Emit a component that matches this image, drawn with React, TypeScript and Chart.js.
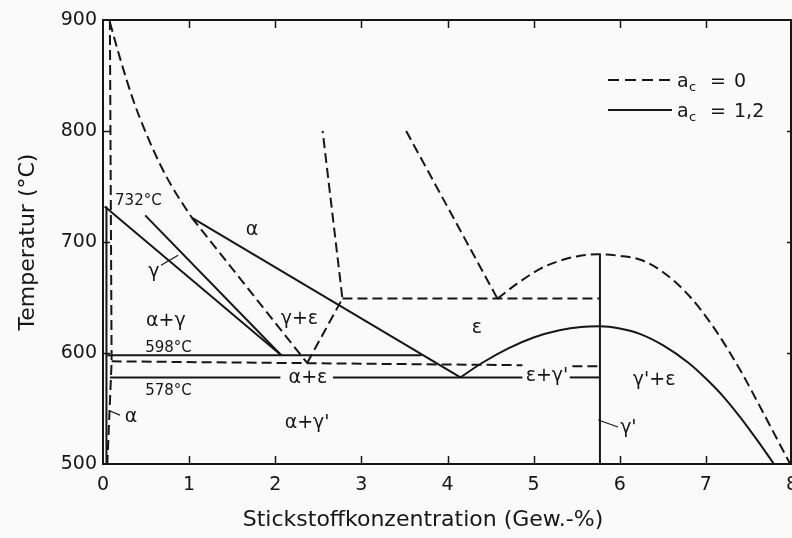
import React, { useEffect, useRef } from "react";
import { Chart, registerables } from "chart.js";

Chart.register(...registerables);

type Pt = [number, number]; // [N in Gew.-%, temperature in °C]

const INK = "#161616";
const FONT = '"DejaVu Sans", "Liberation Sans", sans-serif';

// axis ticks
const X_TICKS = [0, 1, 2, 3, 4, 5, 6, 7, 8];
const T_TICKS = [500, 600, 700, 800, 900];

// ---- a_c = 0 (dashed) ----
const alphaSolvusA0: Pt[] = [[0.08, 900], [0.1, 592], [0.05, 500]];
const gammaCurveA0: Pt[] = [[0.08, 898], [0.2, 865], [0.35, 828], [0.5, 798], [0.65, 772], [0.8, 750], [1.03, 722]];
const gammaAlphaA0: Pt[] = [[1.03, 722], [2.37, 591]];
const gammaEpsA0: Pt[] = [[2.37, 591], [2.78, 649], [2.55, 800]];
const eutectoidA0: Pt[] = [[2.78, 649], [5.77, 649]];
const epsGammaA0: Pt[] = [[3.52, 800], [4.58, 649]];
const epsDomeA0: Pt[] = [
  [4.58, 649], [4.8, 662], [5.08, 676], [5.3, 683], [5.5, 687], [5.74, 689],
  [6.0, 687.5], [6.24, 684], [6.5, 673], [6.8, 652], [7.1, 622], [7.41, 583],
  [7.64, 550], [7.87, 516], [8.0, 497],
];
const iso592A0: Pt[] = [[0.1, 592.5], [4.87, 589]];
const iso592B0: Pt[] = [[5.45, 588], [5.77, 588]];

// ---- a_c = 1,2 (solid) ----
const alphaSolvusA12: Pt[] = [[0.04, 500], [0.04, 732]];
const gammaUpperA12: Pt[] = [[0.02, 732], [2.07, 598]];
const gammaLowerA12: Pt[] = [[0.49, 724], [2.07, 598]];
const alphaBoundA12: Pt[] = [[1.03, 722], [4.15, 578]];
const iso598A12: Pt[] = [[0.05, 598], [3.7, 598]];
const iso578A12a: Pt[] = [[0.08, 578], [2.06, 578]];
const iso578A12b: Pt[] = [[2.67, 578], [4.87, 578]];
const iso578A12c: Pt[] = [[5.42, 578], [5.77, 578]];
const epsDomeA12: Pt[] = [
  [4.15, 578], [4.4, 591], [4.7, 604], [5.0, 614], [5.3, 620.5], [5.55, 623.5],
  [5.77, 624], [6.0, 622], [6.24, 617], [6.5, 607], [6.8, 591], [7.0, 577],
  [7.2, 561], [7.4, 542], [7.6, 521], [7.79, 500],
];
const gammaPrime: Pt[] = [[5.77, 500], [5.77, 689]];

// pointer lines from labels to their boundaries
const leaderGamma: Pt[] = [[0.674, 679], [0.872, 688]];
const leaderAlpha: Pt[] = [[0.081, 547.7], [0.197, 544]];
const leaderGammaPrime: Pt[] = [[5.75, 539.6], [5.98, 533.3]];

// phase-field labels: text, N, T
const regionText = ["α", "γ", "α+γ", "γ+ε", "ε", "α+ε", "ε+γ'", "γ'+ε", "γ'", "α+γ'", "α"];
const regionN = [1.73, 0.59, 0.73, 2.28, 4.34, 2.38, 5.155, 6.4, 6.1, 2.37, 0.325];
const regionT = [710.8, 673, 628.8, 630.6, 622.5, 577.5, 579.3, 575.7, 532.4, 537, 542.3];

// temperature annotations: text, N (left edge), T
const tempText = ["732°C", "598°C", "578°C"];
const tempN = [0.14, 0.49, 0.49];
const tempT = [736.9, 604.5, 565.8];

const toXY = (pts: Pt[]) => pts.map(([x, t]) => ({ x, y: t }));

const lineSet = (pts: Pt[], dashed: boolean, extra: Record<string, unknown> = {}) => ({
  data: toXY(pts),
  borderColor: INK,
  borderWidth: 2,
  borderDash: dashed ? [10, 5] : [],
  pointRadius: 0,
  fill: false,
  tension: 0,
  ...extra,
});

const smooth = { cubicInterpolationMode: "monotone" };

const diagramDecor = {
  id: "diagramDecor",
  beforeDraw(chart: any) {
    const { ctx, width, height } = chart;
    ctx.save();
    ctx.fillStyle = "#fafafa";
    ctx.fillRect(0, 0, width, height);
    ctx.restore();
  },
  afterDatasetsDraw(chart: any) {
    const { ctx, chartArea: a } = chart;
    const xs = chart.scales.x;
    const ys = chart.scales.y;
    ctx.save();
    ctx.strokeStyle = INK;
    ctx.fillStyle = INK;

    // frame
    ctx.lineWidth = 2;
    ctx.setLineDash([]);
    ctx.strokeRect(a.left, a.top, a.right - 1 - a.left, a.bottom - a.top);

    // inward tick marks
    ctx.lineWidth = 1.5;
    ctx.beginPath();
    X_TICKS.forEach((v) => {
      const px = Math.round(xs.getPixelForValue(v)) + 0.5;
      if (v > 0 && v < 8) {
        ctx.moveTo(px, a.bottom);
        ctx.lineTo(px, a.bottom - 8);
        ctx.moveTo(px, a.top);
        ctx.lineTo(px, a.top + 8);
      }
    });
    T_TICKS.forEach((v) => {
      const py = Math.round(ys.getPixelForValue(v)) + 0.5;
      if (v > 500 && v < 900) {
        ctx.moveTo(a.left, py);
        ctx.lineTo(a.left + 7, py);
        ctx.moveTo(a.right, py);
        ctx.lineTo(a.right - 5, py);
      }
    });
    ctx.stroke();

    // phase-field labels
    ctx.textAlign = "center";
    ctx.textBaseline = "middle";
    ctx.font = `19px ${FONT}`;
    regionText.forEach((txt, i) => {
      ctx.fillText(txt, xs.getPixelForValue(regionN[i]), ys.getPixelForValue(regionT[i]));
    });

    // temperature annotations
    ctx.textAlign = "left";
    ctx.font = `15px ${FONT}`;
    tempText.forEach((txt, i) => {
      ctx.fillText(txt, xs.getPixelForValue(tempN[i]), ys.getPixelForValue(tempT[i]));
    });

    // x-axis title
    ctx.textAlign = "center";
    ctx.font = `22px ${FONT}`;
    ctx.fillText("Stickstoffkonzentration (Gew.-%)", 423, 520);

    // legend
    const lx0 = 608;
    const lx1 = 672;
    ctx.lineWidth = 2;
    ctx.setLineDash([11, 6]);
    ctx.beginPath();
    ctx.moveTo(lx0, 80);
    ctx.lineTo(lx1, 80);
    ctx.stroke();
    ctx.setLineDash([]);
    ctx.beginPath();
    ctx.moveTo(lx0, 110);
    ctx.lineTo(lx1, 110);
    ctx.stroke();

    const entries: [string, number][] = [["0", 82], ["1,2", 112]];
    entries.forEach(([val, cy]) => {
      ctx.textAlign = "left";
      ctx.textBaseline = "middle";
      ctx.font = `19px ${FONT}`;
      ctx.fillText("a", 677, cy);
      ctx.font = `13px ${FONT}`;
      ctx.fillText("c", 689, cy + 6);
      ctx.font = `19px ${FONT}`;
      ctx.fillText("=", 710, cy);
      ctx.fillText(val, 734, cy);
    });

    ctx.restore();
  },
};

export default function App() {
  const ref = useRef<HTMLCanvasElement | null>(null);

  useEffect(() => {
    const canvas = ref.current;
    if (!canvas) return;

    const datasets = [
      lineSet(alphaSolvusA0, true),
      lineSet(gammaCurveA0, true, smooth),
      lineSet(gammaAlphaA0, true),
      lineSet(gammaEpsA0, true),
      lineSet(eutectoidA0, true),
      lineSet(epsGammaA0, true),
      lineSet(epsDomeA0, true, smooth),
      lineSet(iso592A0, true),
      lineSet(iso592B0, true),
      lineSet(alphaSolvusA12, false),
      lineSet(gammaUpperA12, false),
      lineSet(gammaLowerA12, false),
      lineSet(alphaBoundA12, false),
      lineSet(iso598A12, false),
      lineSet(iso578A12a, false),
      lineSet(iso578A12b, false),
      lineSet(iso578A12c, false),
      lineSet(epsDomeA12, false, smooth),
      lineSet(gammaPrime, false),
      lineSet(leaderGamma, false, { borderWidth: 1.2 }),
      lineSet(leaderAlpha, false, { borderWidth: 1.2 }),
      lineSet(leaderGammaPrime, false, { borderWidth: 1.2 }),
    ];

    const tickFont = { family: FONT, size: 19 };

    const chart = new Chart(canvas, {
      type: "line",
      data: { datasets: datasets as any },
      options: {
        responsive: false,
        animation: false,
        devicePixelRatio: 1,
        layout: { padding: { top: 20, right: 0, bottom: 0, left: 0 } },
        plugins: {
          legend: { display: false },
          tooltip: { enabled: false },
        },
        scales: {
          x: {
            type: "linear",
            min: 0,
            max: 8,
            grid: { display: false, drawTicks: false },
            border: { display: false },
            ticks: {
              stepSize: 1,
              padding: 10,
              color: INK,
              font: tickFont,
              maxRotation: 0,
              autoSkip: false,
            },
            afterFit: (s: any) => {
              s.height = 74;
              s.paddingLeft = 0;
              s.paddingRight = 0;
            },
          },
          y: {
            type: "linear",
            min: 500,
            max: 900,
            grid: { display: false, drawTicks: false },
            border: { display: false },
            ticks: { stepSize: 100, padding: 6, color: INK, font: tickFont },
            title: {
              display: true,
              text: "Temperatur (°C)",
              color: INK,
              font: { family: FONT, size: 22 },
              padding: { top: 15, bottom: 0 },
            },
            afterFit: (s: any) => {
              s.width = 103;
              s.paddingTop = 0;
              s.paddingBottom = 0;
            },
          },
        },
      } as any,
      plugins: [diagramDecor],
    });

    return () => chart.destroy();
  }, []);

  return (
    <div style={{ position: "fixed", left: 0, top: 0, width: 792, height: 538, background: "#fafafa" }}>
      <canvas ref={ref} width={792} height={538} style={{ display: "block", width: 792, height: 538 }} />
    </div>
  );
}
